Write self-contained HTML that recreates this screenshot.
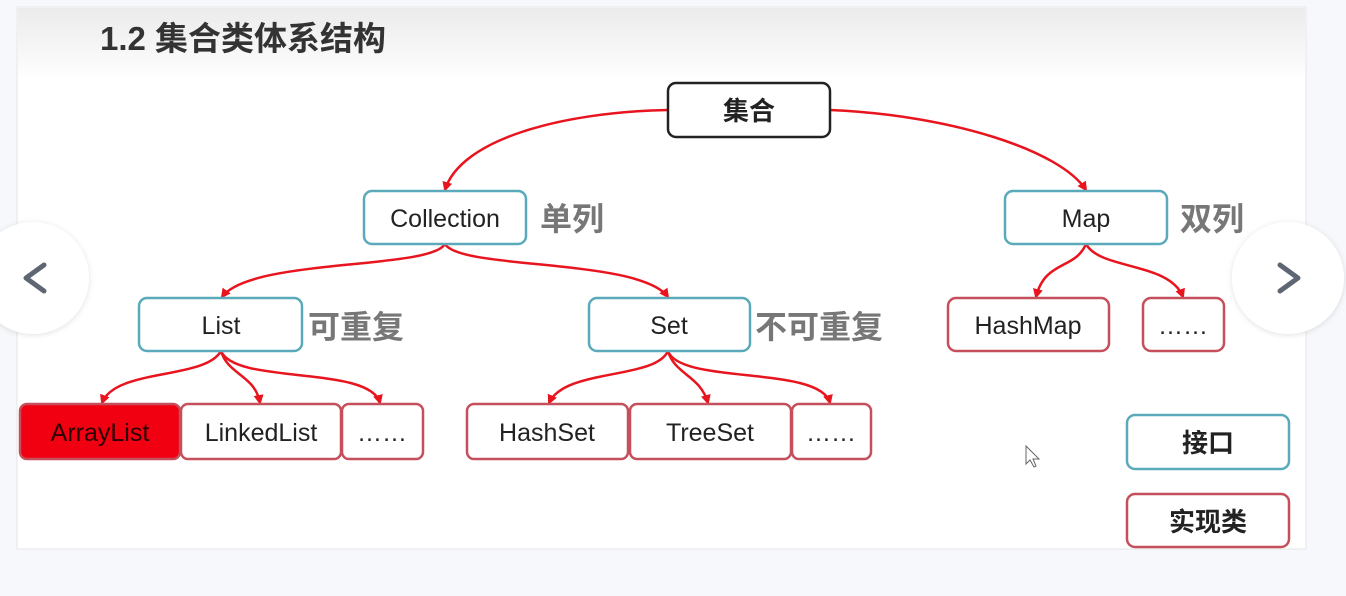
<!DOCTYPE html>
<html><head><meta charset="utf-8"><style>
html,body{margin:0;padding:0;background:#f6f8fb;width:1346px;height:596px;overflow:hidden}
svg{display:block}
text{font-family:"Liberation Sans","Noto Sans CJK SC",sans-serif}
</style></head><body>
<svg width="1346" height="596" viewBox="0 0 1346 596" xmlns="http://www.w3.org/2000/svg">
<defs>
<linearGradient id="hg" x1="0" y1="0" x2="0" y2="1">
<stop offset="0" stop-color="#ebebeb"/><stop offset="1" stop-color="#fefefe"/></linearGradient>
<marker id="ar" viewBox="0 0 10 10" refX="8" refY="5" markerWidth="4" markerHeight="4" orient="auto">
<path d="M0,0 L10,5 L0,10 z" fill="#e8141e"/></marker>
<filter id="sh" x="-30%" y="-30%" width="160%" height="160%"><feDropShadow dx="0" dy="1" stdDeviation="3" flood-color="#000" flood-opacity="0.12"/></filter>
</defs>
<rect x="17" y="7" width="1289" height="542" fill="#fff" stroke="#e6e6e6"/>
<rect x="18" y="8" width="1287" height="70" fill="url(#hg)"/>
<text x="100" y="50" font-size="33" font-weight="bold" fill="#333">1.2 集合类体系结构</text>

<g fill="none" stroke="#e8141e" stroke-width="2.5" marker-end="url(#ar)">
<path d="M668,110 C560,112 460,140 445,190"/>
<path d="M830,110 C950,115 1060,150 1086,190"/>
<path d="M445,244 C430,270 250,258 222,297"/>
<path d="M445,244 C460,270 640,258 668,297"/>
<path d="M1086,244 C1075,270 1045,260 1036,297"/>
<path d="M1086,244 C1100,270 1170,262 1183,297"/>
<path d="M221,351 C205,380 115,368 102,403"/>
<path d="M221,351 C228,375 255,375 260,403"/>
<path d="M221,351 C235,385 370,365 380,403"/>
<path d="M668,351 C655,380 565,368 549,403"/>
<path d="M668,351 C675,375 700,375 708,403"/>
<path d="M668,351 C680,385 820,365 830,403"/>
</g>

<g stroke-width="2.5" fill="#fff">
<rect x="668" y="83" width="162" height="54" rx="8" stroke="#222"/>
<rect x="364" y="191" width="162" height="53" rx="8" stroke="#5aaabb"/>
<rect x="1005" y="191" width="162" height="53" rx="8" stroke="#5aaabb"/>
<rect x="139" y="298" width="163" height="53" rx="8" stroke="#5aaabb"/>
<rect x="589" y="298" width="161" height="53" rx="8" stroke="#5aaabb"/>
<rect x="948" y="298" width="161" height="53" rx="8" stroke="#c5505c"/>
<rect x="1143" y="298" width="81" height="53" rx="8" stroke="#c5505c"/>
<rect x="20" y="404" width="160" height="55" rx="7" stroke="#c5505c" fill="#f00010"/>
<rect x="181" y="404" width="160" height="55" rx="7" stroke="#c5505c"/>
<rect x="342" y="404" width="81" height="55" rx="7" stroke="#c5505c"/>
<rect x="467" y="404" width="161" height="55" rx="7" stroke="#c5505c"/>
<rect x="630" y="404" width="161" height="55" rx="7" stroke="#c5505c"/>
<rect x="792" y="404" width="79" height="55" rx="7" stroke="#c5505c"/>
<rect x="1127" y="415" width="162" height="54" rx="8" stroke="#5aaabb"/>
<rect x="1127" y="494" width="162" height="53" rx="8" stroke="#c5505c"/>
</g>
<g font-size="25" text-anchor="middle" fill="#222">
<text x="749" y="120" font-weight="bold" font-size="26">集合</text>
<text x="445" y="227">Collection</text>
<text x="1086" y="227">Map</text>
<text x="221" y="334">List</text>
<text x="669" y="334">Set</text>
<text x="1028" y="334">HashMap</text>
<text x="1183" y="334">……</text>
<text x="100" y="441" fill="#2a0000">ArrayList</text>
<text x="261" y="441">LinkedList</text>
<text x="382" y="441">……</text>
<text x="547" y="441">HashSet</text>
<text x="710" y="441">TreeSet</text>
<text x="831" y="441">……</text>
<text x="1208" y="452" font-weight="bold" font-size="26">接口</text>
<text x="1208" y="531" font-weight="bold" font-size="26">实现类</text>
</g>
<g font-size="32" font-weight="bold" fill="#777">
<text x="540" y="230">单列</text>
<text x="1180" y="230">双列</text>
<text x="308" y="338">可重复</text>
<text x="755" y="338">不可重复</text>
</g>
<path d="M1026,446 L1026,464 L1030,460 L1034,467 L1036,466 L1033,459 L1039,459 z" fill="#fff" stroke="#666" stroke-width="1"/>

<circle cx="33" cy="278" r="56" fill="#fff" filter="url(#sh)"/>
<path d="M44,265 L26,278 L44,291" fill="none" stroke="#5f6673" stroke-width="5" stroke-linecap="round" stroke-linejoin="round"/>
<circle cx="1288" cy="278" r="56" fill="#fff" filter="url(#sh)"/>
<path d="M1280,265 L1298,278 L1280,291" fill="none" stroke="#5f6673" stroke-width="5" stroke-linecap="round" stroke-linejoin="round"/>
</svg>
</body></html>
